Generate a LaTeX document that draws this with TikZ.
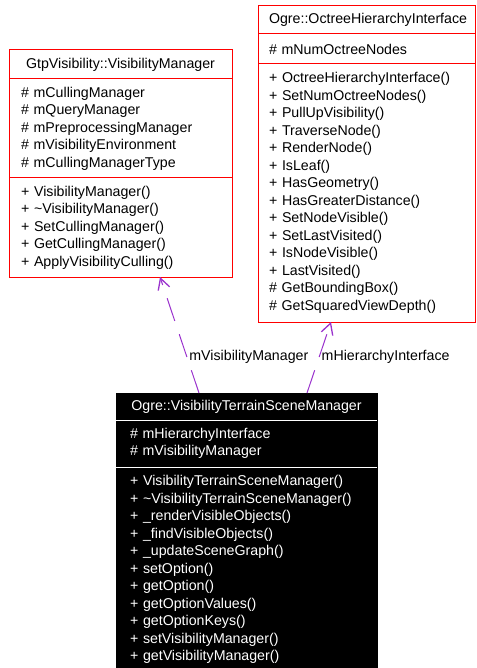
\documentclass[tikz,border=0pt]{standalone}
\usepackage{fontspec}
\setmainfont{Liberation Sans}
\usetikzlibrary{positioning, arrows.meta}

\definecolor{umlred}{RGB}{255,0,0}
\definecolor{usepurple}{RGB}{154,50,205}
\newcommand{\umlfont}{\fontsize{14.2}{17.5}\selectfont}

\tikzset{
  classpart/.style={draw=umlred, line width=1pt, outer sep=0pt, inner xsep=12pt, inner ysep=2pt, font=\umlfont, align=left},
  classtitle/.style={classpart, align=center},
  curpart/.style={classpart, draw=black, fill=black, text=white},
  curtitle/.style={curpart, align=center},
  usage/.style={usepurple, line width=1pt, dash pattern=on 24pt off 14pt, -{Straight Barb[length=11pt,width=12pt,line width=1.3pt]}},
  usagelabel/.style={font=\umlfont, text=black, anchor=west, inner sep=2pt}
}

\begin{document}
\begin{tikzpicture}[x=1pt, y=-1pt]
  \useasboundingbox (0,0) rectangle (476,668);

  % GtpVisibility::VisibilityManager
  \node[classtitle, text width=199pt, minimum height=29pt, anchor=north west] (vm-title) at (9,50) {GtpVisibility::VisibilityManager};
  \node[classpart, text width=199pt, minimum height=99pt, below=0pt of vm-title] (vm-attr) {\# mCullingManager\\\# mQueryManager\\\# mPreprocessingManager\\\# mVisibilityEnvironment\\\# mCullingManagerType};
  \node[classpart, text width=199pt, minimum height=99pt, below=0pt of vm-attr] (vm-meth) {+ VisibilityManager()\\+ \textasciitilde VisibilityManager()\\+ SetCullingManager()\\+ GetCullingManager()\\+ ApplyVisibilityCulling()};

  % Ogre::OctreeHierarchyInterface
  \node[classtitle, inner xsep=11pt, text width=195pt, minimum height=28pt, anchor=north west] (ohi-title) at (258,6) {Ogre::OctreeHierarchyInterface};
  \node[classpart, inner xsep=11pt, text width=195pt, minimum height=30pt, below=0pt of ohi-title] (ohi-attr) {\# mNumOctreeNodes};
  \node[classpart, inner xsep=11pt, text width=195pt, minimum height=258pt, below=0pt of ohi-attr] (ohi-meth) {+ OctreeHierarchyInterface()\\+ SetNumOctreeNodes()\\+ PullUpVisibility()\\+ TraverseNode()\\+ RenderNode()\\+ IsLeaf()\\+ HasGeometry()\\+ HasGreaterDistance()\\+ SetNodeVisible()\\+ SetLastVisited()\\+ IsNodeVisible()\\+ LastVisited()\\\# GetBoundingBox()\\\# GetSquaredViewDepth()};

  % Ogre::VisibilityTerrainSceneManager
  \node[curtitle, inner xsep=14pt, text width=233pt, minimum height=27pt, anchor=north west] (tsm-title) at (116,393) {Ogre::VisibilityTerrainSceneManager};
  \node[curpart, inner xsep=14pt, text width=233pt, minimum height=47pt, below=0pt of tsm-title] (tsm-attr) {\# mHierarchyInterface\\\# mVisibilityManager};
  \node[curpart, inner xsep=14pt, text width=233pt, minimum height=205pt, below=0pt of tsm-attr] (tsm-meth) {+ VisibilityTerrainSceneManager()\\+ \textasciitilde VisibilityTerrainSceneManager()\\+ \_renderVisibleObjects()\\+ \_findVisibleObjects()\\+ \_updateSceneGraph()\\+ setOption()\\+ getOption()\\+ getOptionValues()\\+ getOptionKeys()\\+ setVisibilityManager()\\+ getVisibilityManager()};
  \draw[white, line width=1pt] (tsm-title.south west) -- (tsm-title.south east);
  \draw[white, line width=1pt] (tsm-attr.south west) -- (tsm-attr.south east);

  % usage relations
  \draw[usage] ([xshift=83pt]tsm-title.north west) -- node[usagelabel, pos=0.31] (lbl-vm) {mVisibilityManager} ([xshift=151pt]vm-meth.south west);
  \draw[usage] ([xshift=191pt]tsm-title.north west) -- node[usagelabel, pos=0.51] (lbl-ohi) {mHierarchyInterface} ([xshift=73pt]ohi-meth.south west);
\end{tikzpicture}
\end{document}
